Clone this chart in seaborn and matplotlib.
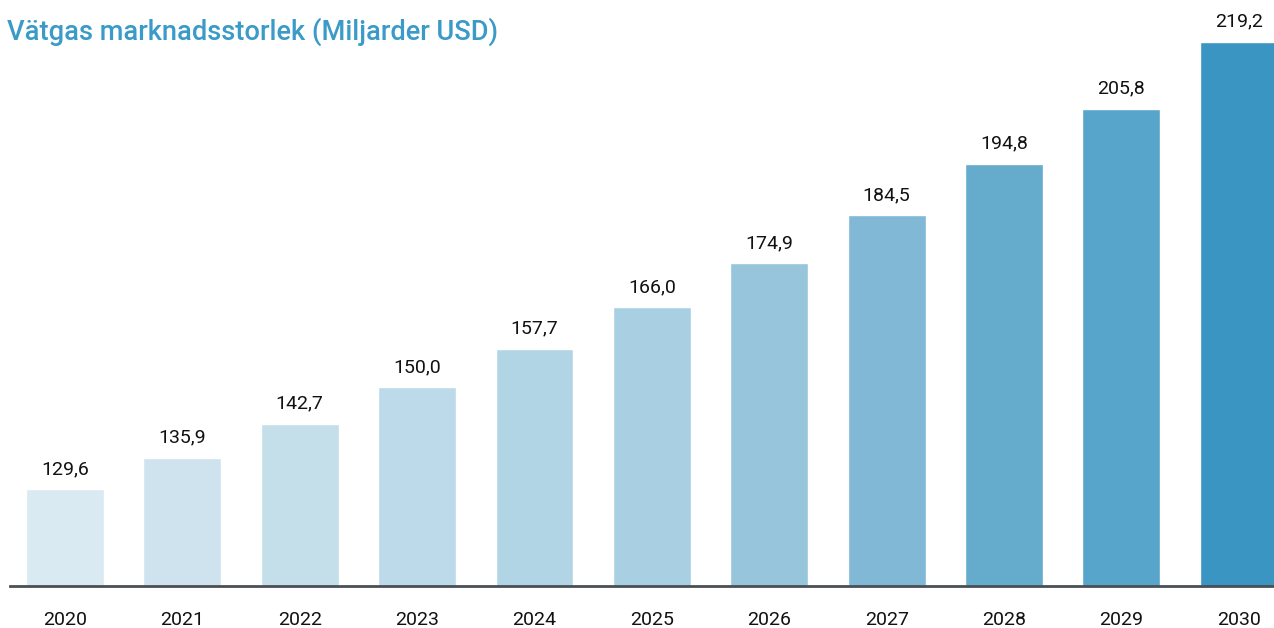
import matplotlib
matplotlib.use("Agg")
import matplotlib.pyplot as plt
import seaborn as sns
import pandas as pd

years = ["2020", "2021", "2022", "2023", "2024", "2025", "2026", "2027", "2028", "2029", "2030"]
values = [129.6, 135.9, 142.7, 150.0, 157.7, 166.0, 174.9, 184.5, 194.8, 205.8, 219.2]
colors = ["#d9eaf2", "#cfe3ee", "#c4dfea", "#bcdae9", "#b2d5e6", "#a8d0e2",
          "#96c5dc", "#80b8d6", "#64abcc", "#58a5cb", "#3b95c2"]
title = "Vätgas marknadsstorlek (Miljarder USD)"

sns.set_theme(style="white")
plt.rcParams["font.family"] = ["Roboto", "DejaVu Sans"]

df = pd.DataFrame({"year": years, "value": values})

W, H = 1274, 628
fig = plt.figure(figsize=(W / 100, H / 100), dpi=100)
ax = fig.add_axes([10 / W, (H - 586) / H, 1264 / W, 586 / H])

sns.barplot(data=df, x="year", y="value", hue="year", palette=colors,
            legend=False, width=0.664, saturation=1, ax=ax)

ax.set_xlim(-0.468, 10.30)
ax.set_ylim(110.2, 227.6)

for i, v in enumerate(values):
    ax.annotate(f"{v:.1f}".replace(".", ","), xy=(i, v), xytext=(0, 8),
                textcoords="offset points", ha="center", va="bottom",
                fontsize=14, color="#111111")

for s in ["top", "right", "left"]:
    ax.spines[s].set_visible(False)
ax.spines["bottom"].set_color("#4a4f55")
ax.spines["bottom"].set_linewidth(2.0)
ax.set_yticks([])
ax.set_xlabel("")
ax.set_ylabel("")
ax.tick_params(axis="x", length=0, pad=18, labelsize=14, labelcolor="#111111")

fig.text(7 / W, 1 - 32 / H, title, ha="left", va="center", fontsize=19.6,
         color="#3a9ac8", fontweight="medium")

fig.savefig("out.png", dpi=100)
